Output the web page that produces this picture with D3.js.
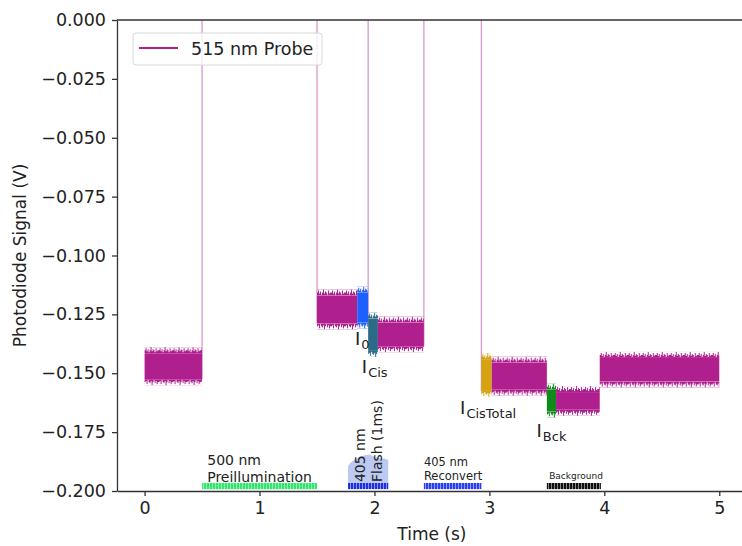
<!DOCTYPE html>
<html>
<head>
<meta charset="utf-8">
<script src="https://cdn.jsdelivr.net/npm/d3@7"></script>
<style>
  html, body { margin: 0; background: #fff; overflow: hidden; }
  svg { display: block; font-family: "DejaVu Sans", sans-serif; overflow: hidden; }
</style>
</head>
<body>
<svg id="drawing_region"></svg>
<script>
// probe trace, drawn as noisy bands between steps (time in s, signal in V)
const segStart = [0.00, 1.50, 1.85, 1.945, 2.03, 2.93, 3.02, 3.50, 3.58, 3.96];
const segEnd   = [0.50, 1.85, 1.945, 2.03, 2.43, 3.02, 3.50, 3.58, 3.96, 5.00];
const segLow   = [-0.1525, -0.1288, -0.1285, -0.1405, -0.1385, -0.1575, -0.1570, -0.1662, -0.1655, -0.1535];
const segHigh  = [-0.1415, -0.1170, -0.1158, -0.1268, -0.1285, -0.1440, -0.1455, -0.1570, -0.1580, -0.1435];
const segKind  = ['probe', 'probe', 'I0', 'ICis', 'probe', 'ICisTotal', 'probe', 'IBck', 'probe', 'probe'];

// times where the trace jumps off scale (light on / flash)
const jumpTimes = [0.50, 1.50, 1.945, 2.43, 2.93];

// light periods shown as hatched bars at the bottom
const lightStart = [0.50, 1.77, 2.43, 3.50];
const lightEnd   = [1.50, 2.12, 2.93, 3.97];
const lightKind  = ['green', 'flash', 'reconvert', 'background'];

// glow drawn above the flash bar
const glowT = [1.77, 1.77, 1.88, 1.95, 2.01, 2.12, 2.12];
const glowV = [-0.1966, -0.1895, -0.1855, -0.1846, -0.1856, -0.1868, -0.1966];

const xTicks = [0, 1, 2, 3, 4, 5];
const yTicks = [0, -0.025, -0.05, -0.075, -0.1, -0.125, -0.15, -0.175, -0.2];

let config = {
  parent: '#drawing_region',
  width: 742,
  height: 546,
  margin: {top: 20, right: -6, bottom: 55, left: 117},
};

const colors = {
  probe: '#b01f8e', I0: '#1f5fff', ICis: '#2c6b88', ICisTotal: '#d5a30f', IBck: '#118a1c',
  green: '#2ee86a', flash: '#1f2fe0', reconvert: '#2a3ef0', background: '#111111'
};
// ragged edge texture for the noisy trace (pixel lengths of the spikes)
const spikeLen = [3, 5, 2, 4, 1, 3, 6, 2, 4, 3, 1, 5, 2, 3];

const svg = d3.select(config.parent)
  .attr('width', config.width)
  .attr('height', config.height);

const chart_width = config.width - config.margin.left - config.margin.right;
const chart_height = config.height - config.margin.top - config.margin.bottom;

const chart = svg.append('g')
  .attr('transform', `translate(${config.margin.left}, ${config.margin.top})`);

const x_scale = d3.scaleLinear().domain([-0.24, 5.25]).range([0, chart_width]);
const y_scale = d3.scaleLinear().domain([-0.2, 0]).range([chart_height, 0]);

const defs = svg.append('defs');
defs.append('clipPath').attr('id', 'clip')
  .append('rect').attr('width', chart_width).attr('height', chart_height);

// hatch patterns for the light bars, spike patterns for the trace
Object.keys(colors).forEach(k => {
  const p = defs.append('pattern').attr('id', 'hatch-' + k)
    .attr('patternUnits', 'userSpaceOnUse').attr('width', 3).attr('height', 6);
  p.append('rect').attr('width', 3).attr('height', 6).attr('fill', colors[k]).attr('opacity', 0.5);
  p.append('rect').attr('width', 2).attr('height', 6).attr('fill', colors[k]);

  ['up', 'down'].forEach(dir => {
    const s = defs.append('pattern').attr('id', `spike-${dir}-${k}`)
      .attr('patternUnits', 'userSpaceOnUse')
      .attr('width', spikeLen.length).attr('height', 6);
    s.selectAll('rect')
      .data(dir === 'up' ? spikeLen : spikeLen.slice().reverse())
      .enter()
      .append('rect')
      .attr('x', (d, i) => i)
      .attr('width', 1)
      .attr('y', d => dir === 'up' ? 6 - d : 0)
      .attr('height', d => d)
      .attr('fill', colors[k]);
  });
});

const plot = chart.append('g').attr('clip-path', 'url(#clip)');

const segs = segStart.map((s, i) => ({t0: s, t1: segEnd[i], lo: segLow[i], hi: segHigh[i], kind: segKind[i]}));

// thin vertical jumps of the trace
plot.selectAll('.jump')
  .data(jumpTimes)
  .enter()
  .append('line')
  .attr('class', 'jump')
  .attr('x1', d => x_scale(d)).attr('x2', d => x_scale(d))
  .attr('y1', d => {
    const s = segs.find(g => Math.abs(g.t0 - d) < 0.01 || Math.abs(g.t1 - d) < 0.01);
    return y_scale(s ? s.lo : -0.15);
  })
  .attr('y2', y_scale(0.01))
  .attr('stroke', '#d690cb')
  .attr('stroke-width', 1.2);

const segG = plot.selectAll('.seg')
  .data(segs)
  .enter()
  .append('g')
  .attr('class', 'seg');

segG.append('rect')
  .attr('x', d => x_scale(d.t0))
  .attr('width', d => x_scale(d.t1) - x_scale(d.t0))
  .attr('y', d => y_scale(d.hi))
  .attr('height', d => y_scale(d.lo) - y_scale(d.hi))
  .attr('fill', d => colors[d.kind]);

// ragged edges above and below each band
segG.append('g')
  .attr('transform', d => `translate(${x_scale(d.t0)}, ${y_scale(d.hi) - 6})`)
  .append('rect')
  .attr('width', d => x_scale(d.t1) - x_scale(d.t0))
  .attr('height', 6)
  .attr('fill', d => `url(#spike-up-${d.kind})`);

segG.append('g')
  .attr('transform', d => `translate(${x_scale(d.t0)}, ${y_scale(d.lo)})`)
  .append('rect')
  .attr('width', d => x_scale(d.t1) - x_scale(d.t0))
  .attr('height', 6)
  .attr('fill', d => `url(#spike-down-${d.kind})`);

// light bars
const lights = lightStart.map((s, i) => ({t0: s, t1: lightEnd[i], kind: lightKind[i]}));

plot.append('path')
  .datum(glowT.map((t, i) => [t, glowV[i]]))
  .attr('d', d3.line().x(d => x_scale(d[0])).y(d => y_scale(d[1])).curve(d3.curveMonotoneX))
  .attr('fill', '#8fa6e8')
  .attr('opacity', 0.6);

plot.selectAll('.light')
  .data(lights)
  .enter()
  .append('rect')
  .attr('x', d => x_scale(d.t0))
  .attr('width', d => x_scale(d.t1) - x_scale(d.t0))
  .attr('y', y_scale(-0.1966))
  .attr('height', y_scale(-0.1992) - y_scale(-0.1966))
  .attr('fill', d => `url(#hatch-${d.kind})`);

// light labels
const note = (t, v, txt, size) => chart.append('text')
  .attr('x', x_scale(t)).attr('y', y_scale(v))
  .attr('font-size', size).attr('fill', '#222').text(txt);

note(0.545, -0.1890, '500 nm', 14);
note(0.545, -0.1960, 'Preillumination', 14);
note(2.43, -0.1893, '405 nm', 11.5);
note(2.43, -0.1955, 'Reconvert', 11.5);
note(3.52, -0.1951, 'Background', 9);

[['405 nm', 1.92], ['Flash (1ms)', 2.065]].forEach(([txt, t]) => {
  chart.append('text')
    .attr('transform', `translate(${x_scale(t)}, ${y_scale(-0.1962)}) rotate(-90)`)
    .attr('font-size', 14).attr('fill', '#222').text(txt);
});

// intensity labels with subscripts
const ilabel = (t, v, sub) => {
  const tx = chart.append('text')
    .attr('x', x_scale(t)).attr('y', y_scale(v))
    .attr('font-size', 18).attr('fill', '#222');
  tx.append('tspan').text('I');
  tx.append('tspan').attr('font-size', 13).attr('dy', 4).attr('dx', 1).text(sub);
};
ilabel(1.83, -0.1380, '0');
ilabel(1.89, -0.1500, 'Cis');
ilabel(2.745, -0.1673, 'CisTotal');
ilabel(3.41, -0.1771, 'Bck');

// axes
const x_axis = d3.axisBottom(x_scale).tickValues(xTicks).tickSize(5).tickSizeOuter(0).tickPadding(6)
  .tickFormat(d3.format('d'));
const y_axis = d3.axisLeft(y_scale).tickValues(yTicks).tickSize(5).tickSizeOuter(0).tickPadding(6)
  .tickFormat(d => d3.format('.3f')(d).replace('-', '\u2212'));

chart.append('g').attr('transform', `translate(0, ${chart_height})`).call(x_axis);
chart.append('g').call(y_axis);
chart.append('line').attr('class', 'spine')
  .attr('x1', 0).attr('x2', chart_width).attr('y1', 0).attr('y2', 0);

chart.selectAll('.domain, .tick line, .spine')
  .attr('stroke', '#333').attr('stroke-width', 1.3);
chart.selectAll('.tick text').attr('font-size', 17.5).attr('fill', '#222')
  .attr('font-family', '"DejaVu Sans", sans-serif');

svg.append('text')
  .attr('x', config.margin.left + x_scale(2.5)).attr('y', 540)
  .attr('text-anchor', 'middle').attr('font-size', 17).attr('fill', '#222')
  .text('Time (s)');

svg.append('text')
  .attr('transform', `translate(26, ${config.margin.top + chart_height / 2}) rotate(-90)`)
  .attr('text-anchor', 'middle').attr('font-size', 17).attr('fill', '#222')
  .text('Photodiode Signal (V)');

// legend
const legend = svg.append('g').attr('transform', 'translate(133, 33)');
legend.append('rect').attr('width', 189).attr('height', 32).attr('rx', 3)
  .attr('fill', '#fff').attr('fill-opacity', 0.8).attr('stroke', '#d8d8d8');
legend.append('line').attr('x1', 6).attr('x2', 45).attr('y1', 15).attr('y2', 15)
  .attr('stroke', colors.probe).attr('stroke-width', 2.2);
legend.append('text').attr('x', 58).attr('y', 21.5).attr('font-size', 17.5).attr('fill', '#222')
  .text('515 nm Probe');
</script>
</body>
</html>
